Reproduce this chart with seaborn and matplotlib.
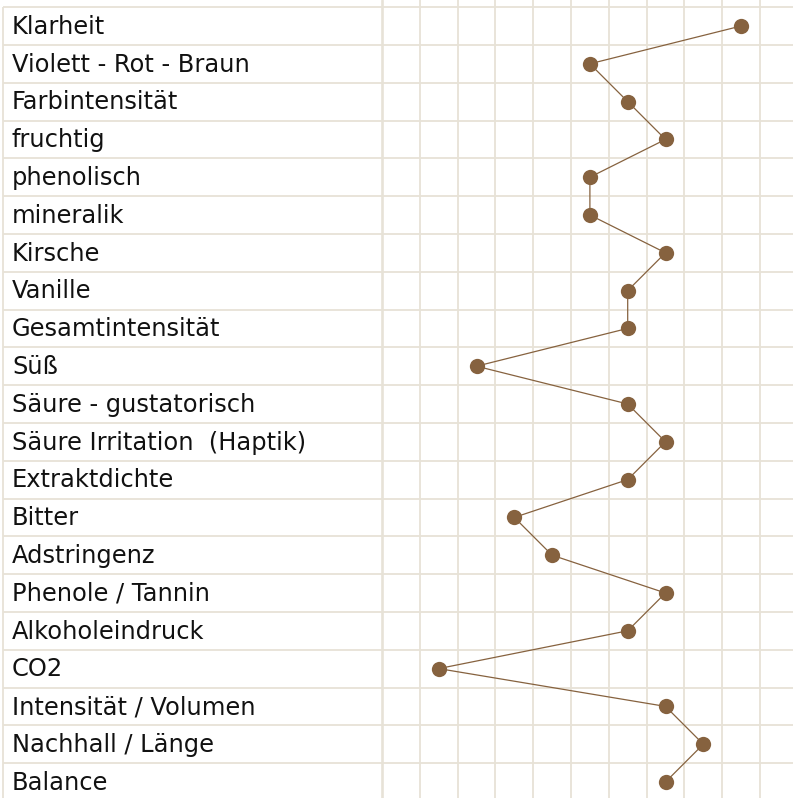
import matplotlib
matplotlib.use("Agg")
import matplotlib.pyplot as plt
import seaborn as sns
import numpy as np
import pandas as pd

# --- Data ---
attributes = [
    "Klarheit", "Violett - Rot - Braun", "Farbintensität", "fruchtig",
    "phenolisch", "mineralik", "Kirsche", "Vanille", "Gesamtintensität",
    "Süß", "Säure - gustatorisch", "Säure Irritation  (Haptik)",
    "Extraktdichte", "Bitter", "Adstringenz", "Phenole / Tannin",
    "Alkoholeindruck", "CO2", "Intensität / Volumen", "Nachhall / Länge",
    "Balance",
]
scores = [9, 5, 6, 7, 5, 5, 7, 6, 6, 2, 6, 7, 6, 3, 4, 7, 6, 1, 7, 8, 7]

df = pd.DataFrame({"attribute": attributes, "score": scores,
                   "row": np.arange(len(attributes))})

# --- Style ---
sns.set_style("white")
plt.rcParams["font.family"] = ["DejaVu Sans"]
GRID = "#e7e2d7"
BROWN = "#86623f"

W, H = 793, 798
fig = plt.figure(figsize=(W / 100, H / 100), dpi=100)

# row i centred at 26 + 37.8*i px from top
row_h = 37.8
ylim = ((H - 26) / row_h, -26 / row_h)
cell = 37.8
left_px = 382

# label table on the left
lax = fig.add_axes([0, 0, left_px / W, 1])
lax.set_xlim(0, left_px)
lax.set_ylim(*ylim)
lax.axis("off")
for i in range(len(attributes)):
    lax.hlines(i - 0.5, 3, left_px, color=GRID, lw=1.3)
lax.vlines(3, -0.5, ylim[0], color=GRID, lw=1.3)
for i, name in enumerate(attributes):
    lax.text(12, i + 0.02, name, fontsize=17.4, va="center", ha="left",
             color="#111111")

# profile grid on the right
ax = fig.add_axes([left_px / W, 0, (W - left_px) / W, 1])
ax.set_xlim(-0.5, -0.5 + (W - left_px) / cell)
ax.set_ylim(*ylim)
ax.axis("off")
for i in range(len(attributes)):
    ax.axhline(i - 0.5, color=GRID, lw=1.3, zorder=0)
for k in range(11):
    ax.axvline(k - 0.5, color=GRID, lw=1.9 if k == 0 else 1.3,
               zorder=0, clip_on=False)

sns.lineplot(data=df, x="score", y="row", sort=False, estimator=None,
             color=BROWN, lw=0.9, marker="o", markersize=11,
             markeredgewidth=0, ax=ax, legend=False)
ax.axis("off")

fig.savefig("out.png", dpi=100)
